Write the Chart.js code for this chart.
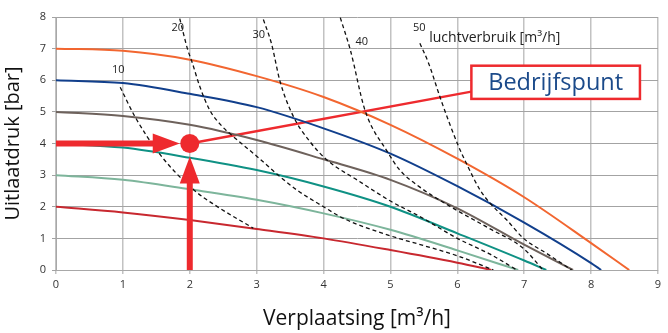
<!DOCTYPE html>
<html>
<head>
<meta charset="utf-8">
<script src="https://cdn.jsdelivr.net/npm/chart.js@4/dist/chart.umd.min.js"></script>
<style>
  html, body { margin: 0; padding: 0; background: #fff; }
  #wrap { width: 668px; height: 333px; }
</style>
</head>
<body>
<div id="wrap"><canvas id="chart"></canvas></div>
<script>
// ── pump curves: [flow m3/h, pressure bar] ───────────────────────────────────
const pump7 = [[0, 7], [1, 6.93], [2, 6.65], [3, 6.13], [4, 5.47], [5, 4.59], [6, 3.52], [7, 2.3], [8, 0.85], [8.57, 0]];
const pump6 = [[0, 6], [1, 5.91], [2, 5.57], [3, 5.15], [4, 4.48], [5, 3.68], [6, 2.65], [7, 1.5], [8, 0.22], [8.15, 0]];
const pump5 = [[0, 5], [1, 4.87], [2, 4.59], [3, 4.11], [4, 3.5], [5, 2.85], [6, 1.95], [7, 0.8], [7.73, 0]];
const pump4 = [[0, 4], [1, 3.87], [2, 3.55], [3, 3.16], [4, 2.64], [5, 2.0], [6, 1.16], [7, 0.3], [7.33, 0]];
const pump3 = [[0, 3], [1, 2.85], [2, 2.55], [3, 2.22], [4, 1.79], [5, 1.27], [6, 0.62], [6.91, 0]];
const pump2 = [[0, 2], [1, 1.82], [2, 1.58], [3, 1.3], [4, 1.0], [5, 0.63], [6, 0.23], [6.51, 0]];

// ── air consumption lines (dashed) ───────────────────────────────────────────
const air10 = [[0.96, 5.78], [1.18, 4.85], [1.54, 3.69], [2.05, 2.55], [2.4, 2.02], [2.95, 1.32]];
const air20 = [[1.85, 7.95], [1.97, 6.96], [2.03, 6.6], [2.15, 5.8], [2.3, 5.05], [2.48, 4.55], [2.65, 4.22], [3.0, 3.6], [3.35, 2.95], [3.6, 2.53], [4.0, 2.0], [4.3, 1.63], [5.0, 1.08], [5.5, 0.77], [6.0, 0.45], [6.54, 0]];
const air30 = [[3.1, 7.92], [3.22, 7.17], [3.35, 5.96], [3.55, 4.85], [3.8, 4.05], [4.05, 3.48], [4.5, 2.85], [5.0, 2.18], [5.44, 1.69], [6.0, 1.0], [6.49, 0.5], [6.89, 0]];
const air40 = [[4.25, 7.98], [4.4, 6.96], [4.62, 5.05], [4.96, 3.72], [5.14, 3.16], [5.44, 2.62], [5.9, 2.0], [6.49, 1.3], [6.99, 0.68], [7.28, 0]];
const air50 = [[5.44, 7.17], [5.57, 6.54], [5.76, 5.35], [6.01, 3.95], [6.14, 3.35], [6.34, 2.53], [6.49, 2.11], [6.74, 1.58], [6.99, 1.0], [7.33, 0.53], [7.71, 0]];
const airLabels = ['10', '20', '30', '40', '50'];
const airTitle = 'luchtverbruik [m\u00B3/h]';

// ── operating point ──────────────────────────────────────────────────────────
const workPoint = [2, 4];
const calloutText = 'Bedrijfspunt';
const xTicks = [0, 1, 2, 3, 4, 5, 6, 7, 8, 9];
const yTicks = [0, 1, 2, 3, 4, 5, 6, 7, 8];

// layout (data coords) for the annotations
const airLabelPos = [[0.93, 6.33], [1.82, 7.66], [3.03, 7.44], [4.57, 7.22], [5.43, 7.65]];
const airTitlePos = [5.58, 7.35];
const calloutBox = [6.21, 6.46, 8.73, 5.41];
const leaderEnd = [6.21, 5.64];
const arrowLeft = [[0, 4], [1.85, 4]];
const arrowUp = [[2, 0], [2, 3.59]];

const RED = '#ee2a2e';
const FONT = "'Open Sans', 'Noto Sans', sans-serif";

const curve = (pts, color, width, dash) => ({
  data: pts.map(([x, y]) => ({ x, y })),
  borderColor: color, borderWidth: width, borderDash: dash || [],
  pointRadius: 0, fill: false, cubicInterpolationMode: 'monotone'
});

const overlay = {
  id: 'overlay',
  afterDatasetsDraw(chart) {
    const { ctx, scales: { x, y } } = chart;
    const px = v => x.getPixelForValue(v), py = v => y.getPixelForValue(v);
    ctx.save();

    // dashed-line labels
    ctx.fillStyle = '#222';
    ctx.font = `11px ${FONT}`;
    ctx.textAlign = 'center'; ctx.textBaseline = 'middle';
    airLabels.forEach((t, i) => ctx.fillText(t, px(airLabelPos[i][0]), py(airLabelPos[i][1])));
    ctx.font = `14px ${FONT}`;
    ctx.textAlign = 'left';
    ctx.fillText(airTitle, px(airTitlePos[0]), py(airTitlePos[1]));

    // arrows
    ctx.strokeStyle = RED; ctx.fillStyle = RED;
    [arrowLeft, arrowUp].forEach(([a, b]) => {
      const x0 = px(a[0]), y0 = py(a[1]), x1 = px(b[0]), y1 = py(b[1]);
      const ang = Math.atan2(y1 - y0, x1 - x0);
      const len = 27, half = 10;
      const bx = x1 - len * Math.cos(ang), by = y1 - len * Math.sin(ang);
      ctx.lineWidth = 6;
      ctx.beginPath(); ctx.moveTo(x0, y0); ctx.lineTo(bx + 2 * Math.cos(ang), by + 2 * Math.sin(ang)); ctx.stroke();
      ctx.beginPath();
      ctx.moveTo(x1, y1);
      ctx.lineTo(bx + half * Math.sin(ang), by - half * Math.cos(ang));
      ctx.lineTo(bx - half * Math.sin(ang), by + half * Math.cos(ang));
      ctx.closePath(); ctx.fill();
    });

    // callout box
    const bx0 = px(calloutBox[0]), by0 = py(calloutBox[1]);
    const bw = px(calloutBox[2]) - bx0, bh = py(calloutBox[3]) - by0;
    ctx.fillStyle = '#fff';
    ctx.fillRect(bx0, by0, bw, bh);
    ctx.lineWidth = 2.5; ctx.strokeStyle = RED;
    ctx.strokeRect(bx0, by0, bw, bh);
    ctx.fillStyle = '#1b4a8a';
    ctx.font = `23.5px ${FONT}`;
    ctx.textAlign = 'center';
    ctx.fillText(calloutText, bx0 + bw / 2, by0 + bh / 2 + 1);
    ctx.restore();
  }
};

new Chart(document.getElementById('chart'), {
  type: 'line',
  data: {
    datasets: [
      curve(air10, '#111', 1.3, [4, 3]),
      curve(air20, '#111', 1.3, [4, 3]),
      curve(air30, '#111', 1.3, [4, 3]),
      curve(air40, '#111', 1.3, [4, 3]),
      curve(air50, '#111', 1.3, [4, 3]),
      curve(pump7, '#f26630', 2),
      curve(pump6, '#113f8c', 2),
      curve(pump5, '#6e625c', 2),
      curve(pump4, '#0f9184', 2),
      curve(pump3, '#7db59b', 2),
      curve(pump2, '#c8282f', 2),
      {
        data: [{ x: workPoint[0], y: workPoint[1] }, { x: leaderEnd[0], y: leaderEnd[1] }],
        borderColor: RED, borderWidth: 2.5, pointRadius: 0, tension: 0, fill: false
      },
      {
        data: [{ x: workPoint[0], y: workPoint[1] }],
        showLine: false, pointRadius: 9.5, pointHoverRadius: 9.5,
        pointBackgroundColor: RED, pointBorderWidth: 0
      }
    ]
  },
  options: {
    responsive: true, maintainAspectRatio: false, animation: false,
    layout: { padding: { top: 17, right: 10, left: 0, bottom: 0 } },
    plugins: { legend: { display: false }, tooltip: { enabled: false } },
    scales: {
      x: {
        type: 'linear', min: 0, max: 9,
        afterBuildTicks: s => { s.ticks = xTicks.map(v => ({ value: v })); },
        afterFit: s => { s.height = 63; },
        grid: { color: '#c2c2c2', lineWidth: 1.5, tickLength: 4 },
        border: { color: '#a8a8a8' },
        ticks: { color: '#333', font: { family: FONT, size: 11 }, padding: 4 },
        title: { display: true, text: 'Verplaatsing [m\u00B3/h]', color: '#111', font: { family: FONT, size: 21 }, padding: { top: 4, bottom: 1 } }
      },
      y: {
        min: 0, max: 8,
        afterBuildTicks: s => { s.ticks = yTicks.map(v => ({ value: v })); },
        afterFit: s => { s.width = 56; },
        grid: { color: '#a3a3a3', lineWidth: 1, tickLength: 4 },
        border: { color: '#a8a8a8' },
        ticks: { color: '#333', font: { family: FONT, size: 11 }, padding: 6 },
        title: { display: true, text: 'Uitlaatdruk [bar]', color: '#111', font: { family: FONT, size: 20 }, padding: { top: 1, bottom: 0 } }
      }
    }
  },
  plugins: [overlay]
});
</script>
</body>
</html>
